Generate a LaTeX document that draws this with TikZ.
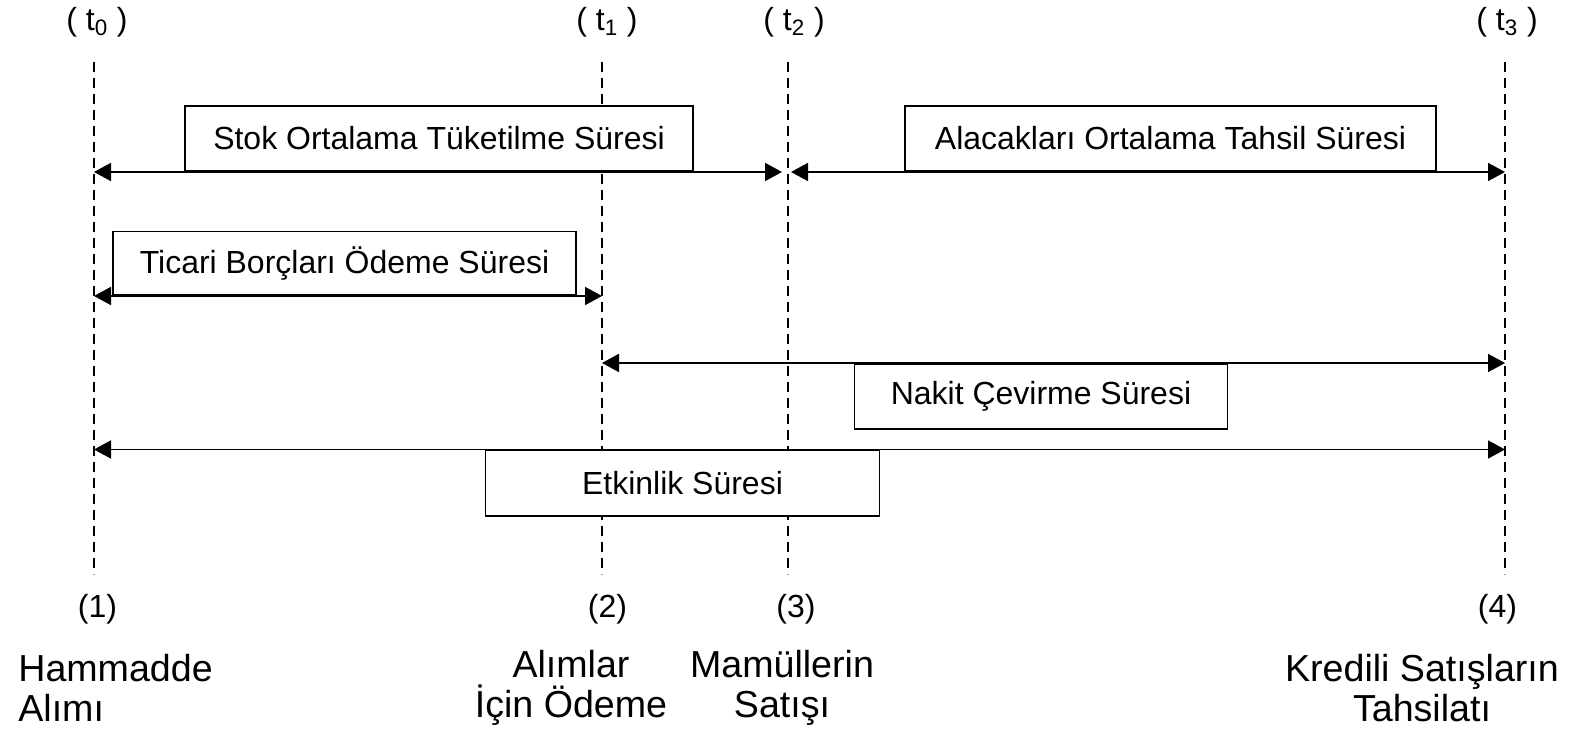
\documentclass[tikz,border=0pt]{standalone}
\usepackage{fontspec}
\setmainfont{Liberation Sans}
\usetikzlibrary{calc}
\usetikzlibrary{positioning}
\usetikzlibrary{arrows.meta}

\begin{document}
\begin{tikzpicture}[%
  >={Triangle[length=0.34cm, width=0.36cm]},
  scale=1.0,
  every node/.style={font=\fontsize{18.2}{22.8}\selectfont, inner sep=0pt},
  timeline/.style={line width=1.1pt, dash pattern=on 0.2cm off 0.12cm},
  span/.style={line width=1.1pt, <->},
  periodbox/.style={draw, line width=1.1pt, fill=white, minimum height=1.30cm},
  eventlabel/.style={font=\fontsize{21.4}{22.8}\selectfont},
]

  \useasboundingbox (0,0) rectangle (31.6,14.66);

  % time lines
  \coordinate (v1a) at (1.88, 13.42);
  \coordinate (v1b) at (1.88, 3.18);
  \coordinate (v2a) at (12.04, 13.42);
  \coordinate (v2b) at (12.04, 3.18);
  \coordinate (v3a) at (15.76, 13.42);
  \coordinate (v3b) at (15.76, 3.18);
  \coordinate (v4a) at (30.10, 13.42);
  \coordinate (v4b) at (30.10, 3.18);

  \draw[timeline] (v1a) -- (v1b);
  \draw[timeline] (v2a) -- (v2b);
  \draw[timeline] (v3a) -- (v3b);
  \draw[timeline] (v4a) -- (v4b);

  % rows
  \coordinate (r1) at (0, 11.22);
  \coordinate (r2) at (0, 8.74);
  \coordinate (r3) at (0, 7.40);
  \coordinate (r4) at (0, 5.67);

  \node (t0) at (1.94, 14.22) {( t\textsubscript{0} )};
  \node (t1) at (12.14, 14.22) {( t\textsubscript{1} )};
  \node (t2) at (15.88, 14.22) {( t\textsubscript{2} )};
  \node (t3) at (30.14, 14.22) {( t\textsubscript{3} )};

  \node[periodbox, minimum width=10.16cm, anchor=south] (stok) at (8.78, 11.22)
    {Stok Ortalama Tüketilme Süresi};
  \node[periodbox, minimum width=10.62cm, anchor=south] (alacak) at (23.41, 11.22)
    {Alacakları Ortalama Tahsil Süresi};
  \node[periodbox, minimum width=9.27cm, minimum height=1.27cm, anchor=south] (borc) at (6.89, 8.74)
    {Ticari Borçları Ödeme Süresi};
  \node[periodbox, minimum width=7.46cm, minimum height=1.31cm, anchor=north] (nakit) at (20.82, 7.40)
    {Nakit Çevirme Süresi};
  \node[periodbox, minimum width=7.88cm, minimum height=1.31cm, anchor=north] (etkin) at (13.65, 5.67)
    {Etkinlik Süresi};

  \draw[span] (v1a |- r1) -- ([xshift=-0.12cm] v3a |- r1);
  \draw[span] ([xshift=0.06cm] v3a |- r1) -- (v4a |- r1);
  \draw[span] (v1a |- r2) -- (v2a |- r2);
  \draw[span] (v2a |- r3) -- (v4a |- r3);
  \draw[span] (v1a |- r4) -- (v4a |- r4);

  \node (n1) at (1.95, 2.47) {(1)};
  \node (n2) at (12.15, 2.47) {(2)};
  \node (n3) at (15.92, 2.47) {(3)};
  \node (n4) at (29.95, 2.47) {(4)};

  \node[eventlabel, align=left, anchor=west] (ham) at (0.36, 0.90) {Hammadde\\Alımı};
  \node[eventlabel, align=center] (alim) at (11.42, 0.90) {Alımlar\\İçin Ödeme};
  \node[eventlabel, align=center] (mamul) at (15.64, 0.90) {Mamüllerin\\Satışı};
  \node[eventlabel, align=center] (kredi) at (28.44, 0.90) {Kredili Satışların\\Tahsilatı};

\end{tikzpicture}
\end{document}
